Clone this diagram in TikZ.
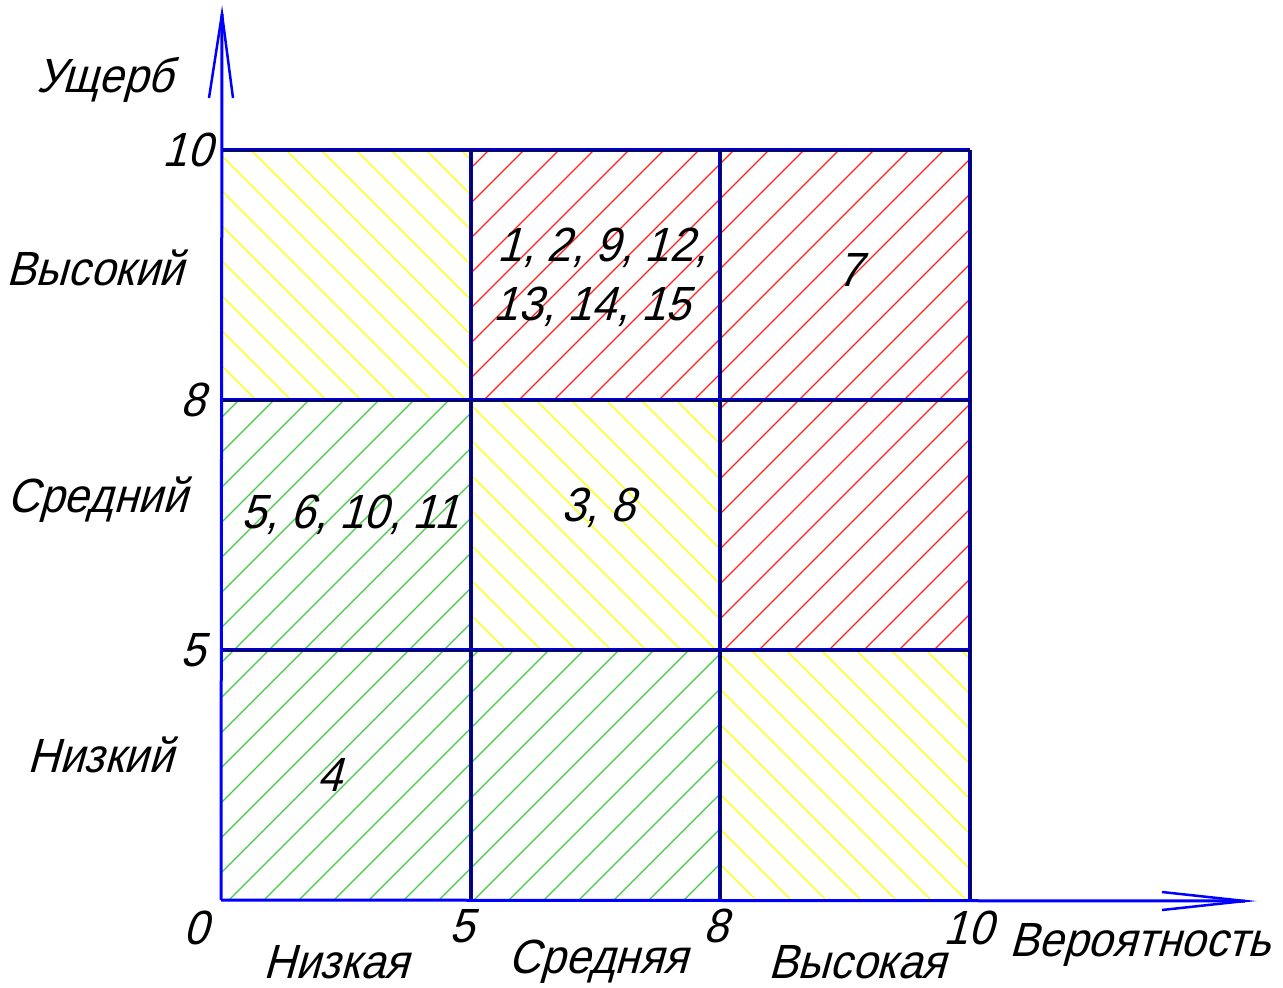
\documentclass[tikz,border=0pt]{standalone}
\usepackage{fontspec}
\setmainfont{Liberation Sans}[FakeSlant=0.28,FakeStretch=0.92]
\definecolor{gridblue}{HTML}{0000C8}
\definecolor{axblue}{HTML}{0000FF}
\definecolor{hyel}{HTML}{FFFF00}
\definecolor{hred}{HTML}{FF2020}
\definecolor{hgrn}{HTML}{40CC40}
\tikzset{
  lbl/.style={font=\fontsize{48}{52}\selectfont, inner sep=0pt},
  gridline/.style={gridblue, line width=3.5pt},
  gridcore/.style={black, line width=1pt},
  axis/.style={axblue, line width=3pt},
  hatchline/.style={line width=1.1pt},
}
\newcommand{\hatchback}[5]{% x1 y1 x2 y2 color : "\" lines
  \begin{scope}
    \clip (#1,#2) rectangle (#3,#4);
    \foreach \i in {-25,...,25} {
      \pgfmathsetmacro\k{-66+35*\i}
      \draw[hatchline,#5] (200,200+\k) -- (1000,1000+\k);
    }
  \end{scope}}
\newcommand{\hatchfwd}[5]{% "/" lines
  \begin{scope}
    \clip (#1,#2) rectangle (#3,#4);
    \foreach \i in {-16,...,30} {
      \pgfmathsetmacro\k{884+35*\i}
      \draw[hatchline,#5] (200,\k-200) -- (1000,\k-1000);
    }
  \end{scope}}
\begin{document}
\begin{tikzpicture}[x=1pt,y=-1pt]
\useasboundingbox (0,0) rectangle (1283,988);
% hatching
\hatchback{221}{150}{471}{400}{hyel}
\hatchfwd{471}{150}{720}{400}{hred}
\hatchfwd{720}{150}{970}{400}{hred}
\hatchfwd{221}{400}{471}{650}{hgrn}
\hatchback{471}{400}{720}{650}{hyel}
\hatchfwd{720}{400}{970}{650}{hred}
\hatchfwd{221}{650}{471}{900}{hgrn}
\hatchfwd{471}{650}{720}{900}{hgrn}
\hatchback{720}{650}{970}{900}{hyel}
% coordinates
\coordinate (o) at (221,900);
\coordinate (ytip) at (222,14);
\coordinate (xtip) at (1245,901);
\coordinate (yl) at (209,98);
\coordinate (yr) at (233,98);
\coordinate (xu) at (1162,892);
\coordinate (xd) at (1162,910);
\coordinate (g5t) at (471,150);
\coordinate (g5b) at (471,900);
\coordinate (g8t) at (720,150);
\coordinate (g8b) at (720,900);
\coordinate (g10t) at (970,150);
\coordinate (g10b) at (970,900);
\coordinate (h10l) at (221,150);
\coordinate (h10r) at (970,150);
\coordinate (h8l) at (221,400);
\coordinate (h8r) at (970,400);
\coordinate (h5l) at (221,650);
\coordinate (h5r) at (970,650);
% grid
\foreach \a/\b in {g5t/g5b,g8t/g8b,g10t/g10b,h10l/h10r,h8l/h8r,h5l/h5r} {
  \draw[gridline] (\a) -- (\b);
  \draw[gridcore] (\a) -- (\b);
}
% axes
\draw[axis] (o) -- (ytip);
\draw[axis] (o) -- (xtip);
\draw[axblue, line width=2.5pt] (yl) -- (ytip) -- (yr);
\draw[axblue, line width=2.5pt] (xu) -- (xtip) -- (xd);
% axis labels
\node[lbl] (ush) at (105,80) {Ущерб};
\node[lbl, anchor=east] (y10) at (212,150) {10};
\node[lbl, anchor=east] (y8) at (205,400) {8};
\node[lbl, anchor=east] (y5) at (205,650) {5};
\node[lbl] (vys) at (95,268) {Высокий};
\node[lbl] (sred) at (97,500) {Средний};
\node[lbl] (niz) at (100,755) {Низкий};
\node[lbl] (x0) at (196,928) {0};
\node[lbl] (x5) at (462,926) {5};
\node[lbl] (x8) at (716,926) {8};
\node[lbl] (x10) at (968,928) {10};
\node[lbl] (nizk) at (336,962) {Низкая};
\node[lbl] (sredn) at (598,962) {Средняя};
\node[lbl] (vysok) at (857,962) {Высокая};
\node[lbl] (ver) at (1140,945) {Вероятность};
% cell labels
\node[lbl] (c1) at (602,248) {1, 2, 9, 12,};
\node[lbl] (c2) at (592,307) {13, 14, 15};
\node[lbl] (c3) at (850,270) {7};
\node[lbl] (c4) at (350,515) {5, 6, 10, 11};
\node[lbl] (c5) at (598,508) {3, 8};
\node[lbl] (c6) at (330,775) {4};
\end{tikzpicture}
\end{document}
